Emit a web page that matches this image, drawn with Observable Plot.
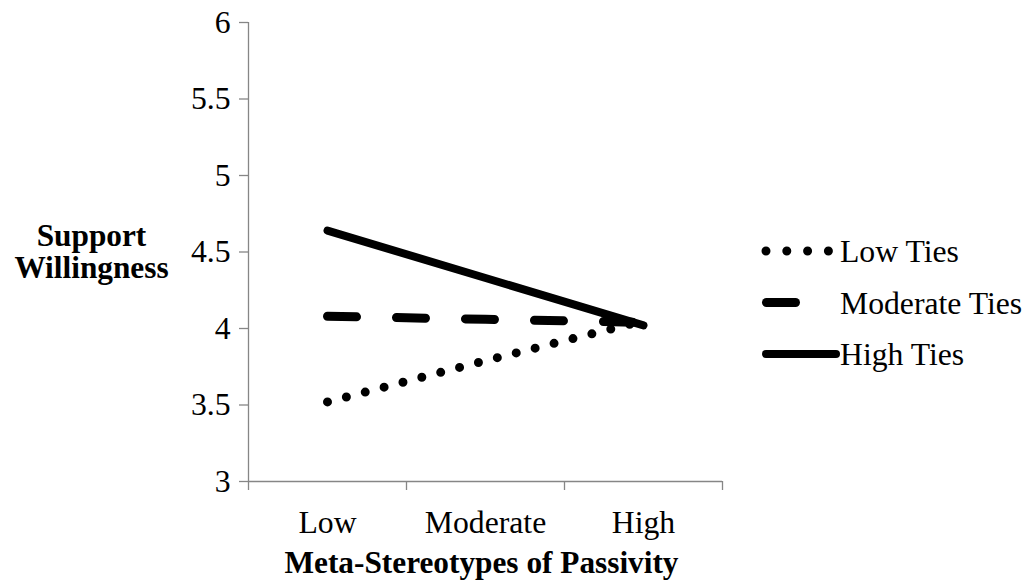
<!DOCTYPE html>
<html>
<head>
<meta charset="utf-8">
<script src="https://cdn.jsdelivr.net/npm/d3@7"></script>
<script src="https://cdn.jsdelivr.net/npm/@observablehq/plot@0.6"></script>
<style>
  html, body { margin: 0; padding: 0; background: white; }
  #wrap { position: relative; width: 1029px; height: 580px; font-family: "Liberation Serif", "Times New Roman", serif; }
  #legend { position: absolute; left: 0; top: 0; pointer-events: none; }
</style>
</head>
<body>
<div id="wrap"></div>
<script>
// ---- data ----
const categories = ["Low", "Moderate", "High"];
const seriesNames = ["Low Ties", "Moderate Ties", "High Ties"];
const lowTies = [3.52, 3.79, 4.05];
const moderateTies = [4.08, 4.06, 4.04];
const highTies = [4.64, 4.33, 4.02];
const yTicks = [3, 3.5, 4, 4.5, 5, 5.5, 6];
const xTitle = "Meta-Stereotypes of Passivity";
const yTitle = "Support\nWillingness";

// ---- styles ----
const styles = {
  "Low Ties": {strokeWidth: 9, strokeDasharray: "0,19.5"},
  "Moderate Ties": {strokeWidth: 9, strokeDasharray: "29,40"},
  "High Ties": {strokeWidth: 8, strokeDasharray: null}
};
const axisColor = "#868686";
const font = "Liberation Serif, Times New Roman, serif";
const fs = 31.7;
const fsBold = 31.3;

const seriesValues = [lowTies, moderateTies, highTies];
const rows = [];
seriesNames.forEach((s, si) => {
  categories.forEach((c, ci) => {
    rows.push({series: s, category: c, pos: ci + 0.5, value: seriesValues[si][ci]});
  });
});

const lineMarks = seriesNames.map(s => Plot.line(rows.filter(r => r.series === s), {
  x: "pos", y: "value", stroke: "black",
  strokeWidth: styles[s].strokeWidth,
  strokeDasharray: styles[s].strokeDasharray || undefined,
  strokeLinecap: "round", strokeLinejoin: "round"
}));

const chart = Plot.plot({
  width: 1029, height: 580,
  marginLeft: 248, marginRight: 307, marginTop: 22, marginBottom: 99,
  style: {fontFamily: font, fontSize: fs + "px", background: "white", color: "black"},
  x: {domain: [0, categories.length], label: null},
  y: {domain: [3, 6], label: null},
  marks: [
    Plot.axisY({ticks: yTicks, tickSize: 9, tickPadding: 9, stroke: axisColor, strokeWidth: 1.3, fill: "black", fontSize: fs, label: null, tickFormat: d => String(d)}),
    Plot.axisX({ticks: d3.range(categories.length + 1), tickSize: 9, stroke: axisColor, strokeWidth: 1.3, tickFormat: () => "", label: null}),
    Plot.axisX({ticks: categories.map((c, i) => i + 0.5), tickSize: 0, tickPadding: 29, fill: "black", fontSize: fs, tickFormat: d => categories[Math.floor(d)], label: null}),
    Plot.ruleX([0], {y1: 3, y2: 6, stroke: axisColor, strokeWidth: 1.3}),
    Plot.ruleY([3], {x1: 0, x2: categories.length, stroke: axisColor, strokeWidth: 1.3}),
    ...lineMarks,
    Plot.text([xTitle], {frameAnchor: "bottom", dx: -4, dy: 91, fontWeight: "bold", fontSize: fsBold, fill: "black", textAnchor: "middle"}),
    Plot.text([yTitle], {frameAnchor: "left", dx: -157, dy: 0, fontWeight: "bold", fontSize: fsBold, fill: "black", textAnchor: "middle", lineHeight: 1.03})
  ]
});
document.getElementById("wrap").appendChild(chart);

// ---- legend overlay ----
const legendRows = [
  {name: "Low Ties", y: 251, x1: 766, x2: 829.5},
  {name: "Moderate Ties", y: 302.5, x1: 766.5, x2: 795.5},
  {name: "High Ties", y: 354, x1: 766, x2: 836}
];
const svg = d3.select("#wrap").append("svg")
  .attr("id", "legend").attr("width", 1029).attr("height", 580);
const g = svg.selectAll("g").data(legendRows).join("g");
g.append("line")
  .attr("x1", d => d.x1).attr("x2", d => d.x2)
  .attr("y1", d => d.y).attr("y2", d => d.y)
  .attr("stroke", "black")
  .attr("stroke-width", d => styles[d.name].strokeWidth)
  .attr("stroke-dasharray", d => d.name === "Low Ties" ? "0,20.8" : null)
  .attr("stroke-linecap", "round");
g.append("text")
  .attr("x", 840).attr("y", d => d.y + 11)
  .attr("font-family", font).attr("font-size", fs)
  .attr("fill", "black")
  .text(d => d.name);
</script>
</body>
</html>
